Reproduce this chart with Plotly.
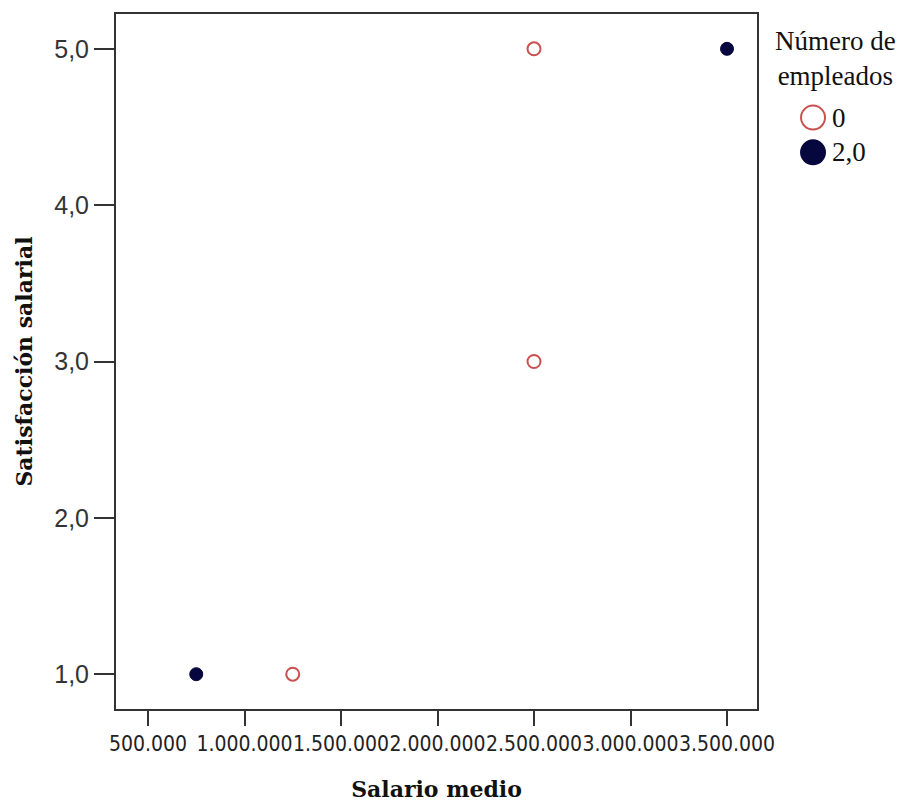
import plotly.graph_objects as go

# Data
group_labels = ["0", "2,0"]
salario_g0 = [1250000, 2500000, 2500000]
satisf_g0 = [1, 3, 5]
salario_g1 = [750000, 3500000]
satisf_g1 = [1, 5]

x_tickvals = [500000, 1000000, 1500000, 2000000, 2500000, 3000000, 3500000]
x_ticktext = ["500.000", "1.000.000", "1.500.000", "2.000.000", "2.500.000", "3.000.000", "3.500.000"]
y_tickvals = [1, 2, 3, 4, 5]
y_ticktext = ["1,0", "2,0", "3,0", "4,0", "5,0"]

red = "#c9504f"
navy = "#07073f"

fig = go.Figure()
fig.add_trace(go.Scatter(
    x=salario_g0, y=satisf_g0, mode="markers", name=group_labels[0],
    marker=dict(size=13, color="white", line=dict(color=red, width=2)),
    showlegend=False, cliponaxis=False,
))
fig.add_trace(go.Scatter(
    x=salario_g1, y=satisf_g1, mode="markers", name=group_labels[1],
    marker=dict(size=13, color=navy, line=dict(color=navy, width=1)),
    showlegend=False, cliponaxis=False,
))

# Custom legend (larger symbols as in the reference)
legend_font = dict(family="Liberation Serif", size=27, color="#111")
fig.add_annotation(xref="paper", yref="paper", x=1.122, y=0.985, xanchor="center", yanchor="top",
                   text="Número de<br>empleados", showarrow=False, font=legend_font, align="center")
leg_y = [0.851, 0.801]
for i, lab in enumerate(group_labels):
    fig.add_shape(type="circle", xref="paper", yref="paper",
                  x0=1.0874 - 0.0187, x1=1.0874 + 0.0187, y0=leg_y[i] - 0.0172, y1=leg_y[i] + 0.0172,
                  line=dict(color=red if i == 0 else navy, width=2),
                  fillcolor="white" if i == 0 else navy)
    fig.add_annotation(xref="paper", yref="paper", x=1.114, y=leg_y[i], xanchor="left", yanchor="middle",
                       text=lab, showarrow=False, font=legend_font)

axis_common = dict(
    showline=True, linecolor="#333", linewidth=2, mirror=True,
    showgrid=False, zeroline=False, ticks="outside", tickcolor="#333", tickwidth=2,
)

fig.update_layout(
    width=896, height=794,
    margin=dict(l=108, r=147, t=4, b=89),
    plot_bgcolor="white", paper_bgcolor="white",
    xaxis=dict(
        range=[334200, 3655400], tickvals=x_tickvals, ticktext=x_ticktext, ticklen=15, tickangle=0,
        tickfont=dict(family="DejaVu Sans Condensed", size=21, color="#222"),
        title=dict(text="<b>Salario medio</b>", font=dict(family="DejaVu Serif", size=22, color="#111"), standoff=26),
        **axis_common,
    ),
    yaxis=dict(
        range=[0.7774, 5.2226], tickvals=y_tickvals, ticktext=y_ticktext, ticklen=20,
        tickfont=dict(family="Liberation Sans", size=25, color="#333"),
        title=dict(text="<b>Satisfacción salarial</b>", font=dict(family="DejaVu Serif", size=22, color="#111"), standoff=16),
        **axis_common,
    ),
)

fig.write_html("out.html")
